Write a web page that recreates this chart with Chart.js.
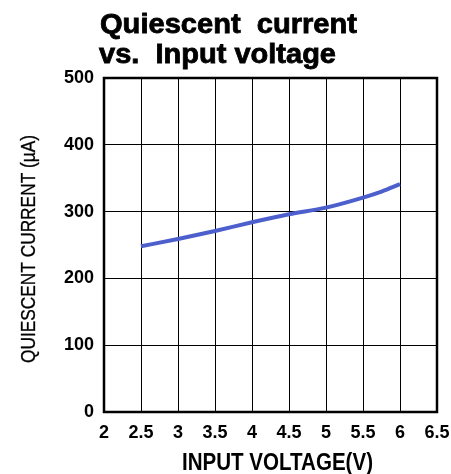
<!DOCTYPE html>
<html lang="en">
<head>
  <meta charset="UTF-8" />
  <title>Quiescent current vs. Input voltage</title>
  <style>
    body { margin: 0; background: #ffffff; }
    canvas { display: block; }
  </style>
  <script src="https://cdn.jsdelivr.net/npm/chart.js"></script>
</head>
<body>
  <canvas id="chart" width="451" height="474"></canvas>

  <script>
    const titleLines = ["Quiescent  current", "vs.  Input voltage"];
    const xLabel = "INPUT VOLTAGE(V)";
    const yLabel = "QUIESCENT CURRENT (\u00b5A)";

    const voltage = [2.5, 3, 3.5, 4, 4.5, 5, 5.5, 5.75, 6];
    const current = [248, 259, 271, 284, 296, 306, 321, 330, 341];

    // the figure uses a condensed face, so squeeze text to a given width
    function squeezed(ctx, text, x, y, width, font, heavy) {
      ctx.font = font;
      const w = ctx.measureText(text).width;
      ctx.save();
      ctx.translate(x, y);
      ctx.scale(width / w, 1);
      ctx.fillText(text, 0, 0);
      if (heavy) {
        ctx.lineWidth = heavy;
        ctx.strokeText(text, 0, 0);
      }
      ctx.restore();
    }

    const textPlugin = {
      id: "figureText",
      afterDraw(chart) {
        const ctx = chart.ctx;
        ctx.save();
        ctx.fillStyle = "#000";
        ctx.strokeStyle = "#000";
        ctx.textBaseline = "alphabetic";
        ctx.textAlign = "left";
        const tf = "bold 27px 'Liberation Sans', Arial, sans-serif";
        squeezed(ctx, titleLines[0], 100, 33, 257, tf, 0.8);
        squeezed(ctx, titleLines[1], 99, 63, 237, tf, 0.8);

        // x axis title
        squeezed(ctx, xLabel, 182, 470, 191, "bold 24px 'Liberation Sans', Arial, sans-serif", 0);

        // y axis title, rotated
        ctx.save();
        ctx.translate(35, 363);
        ctx.rotate(-Math.PI / 2);
        squeezed(ctx, yLabel, 0, 0, 228, "21px 'Liberation Sans', Arial, sans-serif", 0.3);
        ctx.restore();
        ctx.restore();
      }
    };

    // heavy frame round the plot area
    const framePlugin = {
      id: "frame",
      afterDatasetsDraw(chart) {
        const a = chart.chartArea;
        const ctx = chart.ctx;
        ctx.save();
        ctx.strokeStyle = "#000";
        ctx.lineWidth = 2.5;
        ctx.strokeRect(a.left, a.top, a.right - a.left, a.bottom - a.top);
        ctx.restore();
      }
    };

    new Chart(document.getElementById("chart"), {
      type: "line",
      data: {
        datasets: [{
          data: voltage.map((v, i) => ({ x: v, y: current[i] })),
          borderColor: "#4c5fcc",
          borderWidth: 4,
          pointRadius: 0,
          fill: false,
          cubicInterpolationMode: "monotone"
        }]
      },
      options: {
        responsive: false,
        animation: false,
        layout: { padding: { top: 78, right: 0, bottom: 0, left: 10 } },
        plugins: { legend: { display: false }, tooltip: { enabled: false } },
        scales: {
          x: {
            type: "linear",
            min: 2, max: 6.5,
            ticks: {
              stepSize: 0.5,
              color: "#000",
              padding: 10,
              font: { family: "'Liberation Sans', Arial", size: 18, weight: "bold" },
              callback: v => String(v)
            },
            grid: { color: "#000", lineWidth: 1, drawTicks: false },
            border: { display: false },
            afterFit(scale) {
              scale.height = 62;
              scale.paddingRight = 14;
            }
          },
          y: {
            min: 0, max: 500,
            ticks: {
              stepSize: 100,
              color: "#000",
              padding: 10,
              font: { family: "'Liberation Sans', Arial", size: 18, weight: "bold" }
            },
            grid: { color: "#000", lineWidth: 1, drawTicks: false },
            border: { display: false },
            afterFit(scale) { scale.width = 94; }
          }
        }
      },
      plugins: [textPlugin, framePlugin]
    });
  </script>
</body>
</html>
